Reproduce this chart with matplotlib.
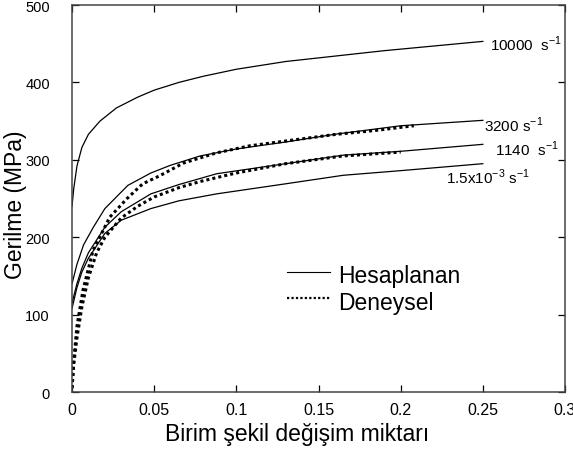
import matplotlib
matplotlib.use("Agg")
import matplotlib.pyplot as plt

plt.rcParams['font.family'] = ['Liberation Sans', 'DejaVu Sans']

# calculated curves (Hesaplanan)
x_10000 = [0, 0.001, 0.003, 0.006, 0.01, 0.017, 0.027, 0.04, 0.05, 0.065, 0.08, 0.1, 0.13, 0.16, 0.19, 0.22, 0.25]
y_10000 = [240, 262, 292, 316, 333, 350, 367, 381, 390, 400, 408, 417, 427, 434, 441, 447, 453]

x_3200 = [0, 0.003, 0.007, 0.013, 0.02, 0.034, 0.048, 0.06, 0.078, 0.1, 0.13, 0.16, 0.2, 0.25]
y_3200 = [140, 165, 190, 213, 237, 267, 283, 293, 305, 314, 323, 333, 344, 351]

x_1140 = [0, 0.003, 0.006, 0.01, 0.02, 0.03, 0.048, 0.065, 0.088, 0.13, 0.165, 0.2, 0.25]
y_1140 = [115, 140, 160, 180, 213, 233, 256, 268, 282, 295, 306, 311, 320]

x_low = [0, 0.003, 0.006, 0.01, 0.02, 0.03, 0.048, 0.065, 0.088, 0.13, 0.165, 0.2, 0.25]
y_low = [108, 135, 155, 173, 205, 222, 237, 247, 256, 269, 280, 286, 295]

# experimental curves (Deneysel)
xe_3200 = [0, 0.001, 0.003, 0.0067, 0.0128, 0.023, 0.0335, 0.043, 0.053, 0.068, 0.088, 0.108, 0.129, 0.161, 0.185, 0.208]
ye_3200 = [5, 40, 85, 132, 183, 226, 250, 269, 279, 296, 309, 318, 324, 333, 338, 344]

xe_1140 = [0, 0.001, 0.003, 0.006, 0.01, 0.015, 0.02, 0.03, 0.04, 0.05, 0.065, 0.078, 0.1, 0.13, 0.165, 0.2]
ye_1140 = [5, 35, 70, 110, 148, 180, 200, 225, 240, 252, 264, 272, 283, 295, 305, 310]

x_ticks = [0, 0.05, 0.1, 0.15, 0.2, 0.25, 0.3]
x_tick_labels = ["0", "0.05", "0.1", "0.15", "0.2", "0.25", "0.3"]
y_ticks = [0, 100, 200, 300, 400, 500]

fig = plt.figure(figsize=(5.73, 4.52), dpi=100)
ax = fig.add_axes([0.1257, 0.1305, 0.8603, 0.8562])

line_kw = dict(color="black", linewidth=0.9)
ax.plot(x_10000, y_10000, **line_kw)
ax.plot(x_3200, y_3200, **line_kw)
ax.plot(x_1140, y_1140, **line_kw)
ax.plot(x_low, y_low, **line_kw)

dot_kw = dict(color="black", linewidth=2.2, linestyle=(0, (1, 1)))
ax.plot(xe_3200, ye_3200, **dot_kw)
ax.plot(xe_1140, ye_1140, **dot_kw)

# rate labels
ax.text(0.2544, 450, r"10000  s$^{\mathregular{-1}}$", fontsize=11, va="center")
ax.text(0.2507, 346, r"3200 s$^{\mathregular{-1}}$", fontsize=11, va="center")
ax.text(0.2574, 315, r"1140  s$^{\mathregular{-1}}$", fontsize=11, va="center")
ax.text(0.2276, 279, r"1.5x10$^{\mathregular{-3}}$ s$^{\mathregular{-1}}$", fontsize=11, va="center")

# legend drawn as in the original
ax.plot([0.1308, 0.157], [155, 155], color="black", linewidth=0.8)
ax.plot([0.1308, 0.157], [122, 122], color="black", linewidth=1.6, linestyle=(0, (1, 1)))
ax.text(0.1619, 151, "Hesaplanan", fontsize=16.5, va="center")
ax.text(0.1619, 116, "Deneysel", fontsize=16.5, va="center")

ax.set_xlim(0, 0.3)
ax.set_ylim(0, 500)
ax.set_xticks(x_ticks)
ax.set_xticklabels(x_tick_labels)
ax.set_yticks(y_ticks)
ax.tick_params(direction="in", top=True, right=True, length=5, width=0.9, colors="black")
ax.tick_params(axis="x", labelsize=11.5, pad=7)
ax.tick_params(axis="y", labelsize=10.5, pad=16)
for s in ax.spines.values():
    s.set_linewidth(1.1)
    s.set_color("#444444")

fig.text(297 / 573, 1 - 435 / 452, "Birim şekil değişim miktarı", fontsize=16.5,
         ha="center", va="center")
fig.text(16 / 573, 1 - 205 / 452, "Gerilme (MPa)", fontsize=16.5,
         ha="center", va="center", rotation=90)

fig.savefig("out.png", dpi=100)
